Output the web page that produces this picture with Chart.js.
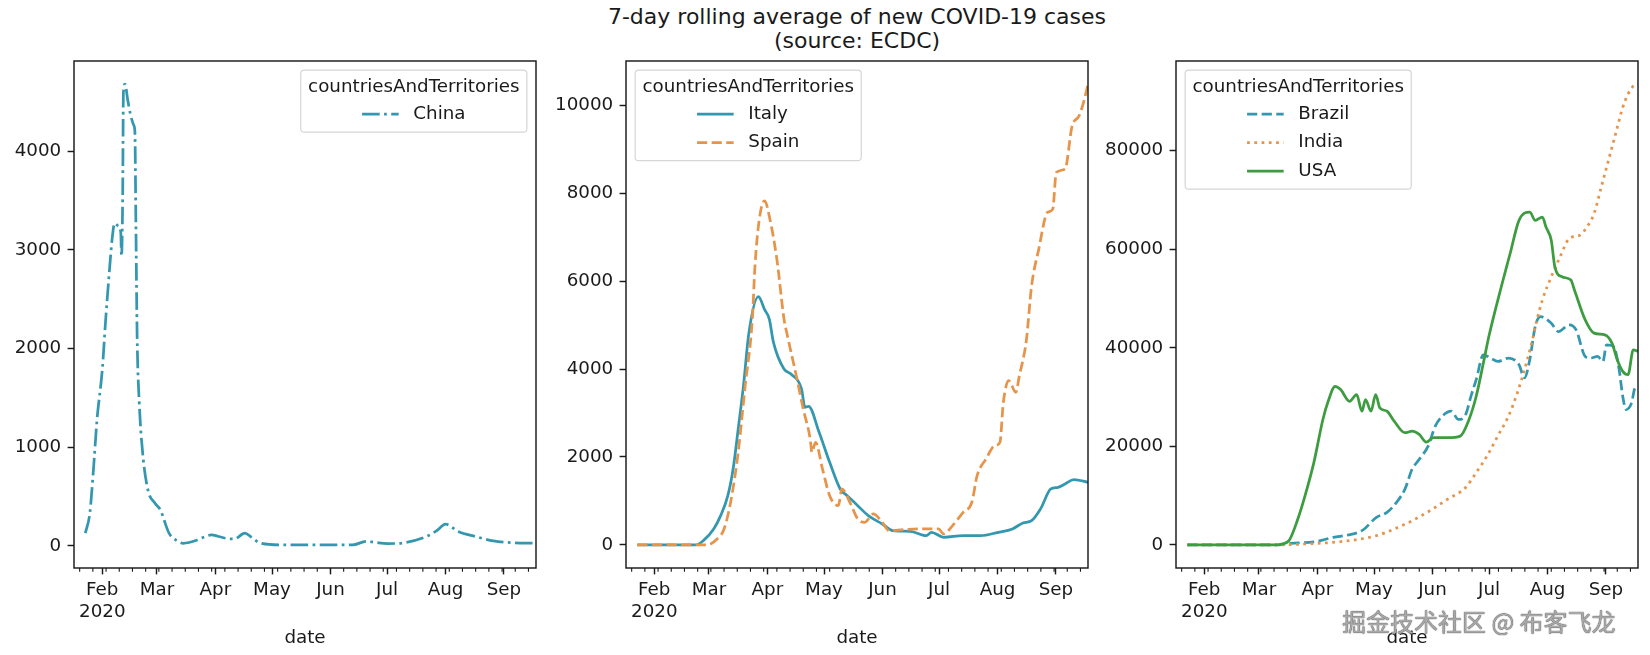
<!DOCTYPE html>
<html>
<head>
<meta charset="utf-8">
<script src="https://cdn.jsdelivr.net/npm/chart.js@4.4.0/dist/chart.umd.min.js"></script>
<style>
  body { margin: 0; background: #fff; width: 1650px; height: 655px; position: relative; overflow: hidden; font-family: "DejaVu Sans", sans-serif; }
  canvas { position: absolute; top: 0; }
  #title { position: absolute; left: 0; top: 5px; width: 1714px; text-align: center; font-size: 22px; line-height: 24.4px; color: #1a1a1a; }
  #mark { position: absolute; left: 1342px; top: 608px; font-family: "Noto Sans CJK SC", sans-serif; font-size: 24px; line-height: 26px; color: #a8a8a8; text-shadow: 0 0 1px #555, 0 0 1px #555; white-space: nowrap; }
</style>
</head>
<body>
<div id="title">7-day rolling average of new COVID-19 cases<br>(source: ECDC)</div>
<canvas id="c1" width="545" height="655" style="left:0px"></canvas>
<canvas id="c2" width="555" height="655" style="left:545px"></canvas>
<canvas id="c3" width="550" height="655" style="left:1100px"></canvas>
<div id="mark">掘金技术社区 @ 布客飞龙</div>
<script>
// x values are days since 2020-01-01
const X_MIN = 16;   // Jan 17
const X_MAX = 261;  // Sep 18
const MONTH_TICKS = [31, 60, 91, 121, 152, 182, 213, 244];
const MONTH_NAMES = ['Feb', 'Mar', 'Apr', 'May', 'Jun', 'Jul', 'Aug', 'Sep'];
const WEEK_TICKS = [19, 26, 33, 40, 47, 54, 61, 68, 75, 82, 89, 96, 103, 110, 117, 124, 131, 138,
    145, 152, 159, 166, 173, 180, 187, 194, 201, 208, 215, 222, 229, 236, 243, 250, 257];

const TICKS_1 = [0, 1000, 2000, 3000, 4000];
const TICKS_2 = [0, 2000, 4000, 6000, 8000, 10000];
const TICKS_3 = [0, 20000, 40000, 60000, 80000];

const LEGEND_TITLE = 'countriesAndTerritories';

const chinaDays = [22, 24.4, 26.3, 28.2, 31, 32.8, 34.7, 36.2, 37.5, 39.4, 40.8, 41.2, 41.8, 42.2, 43.1, 44.4, 45.9, 47.8, 48.3, 48.8, 49.5, 50.6, 52.4, 55.2, 59, 61.8, 66.4, 70, 73.9, 77, 81.4, 85, 88.9, 92, 96.3, 101, 106.6, 110, 115, 126.3, 145, 163.7, 171.1, 176, 182.3, 191.6, 202.9, 208, 213.1, 219.7, 229, 238.4, 247.7, 261];
const chinaCases = [130, 332, 772, 1279, 1787, 2294, 2770, 3107, 3269, 3242, 3178, 2937, 3513, 4596, 4680, 4528, 4376, 4257, 4190, 3300, 2100, 1452, 944, 568, 433, 365, 129, 60, 27, 35, 61, 90, 112, 100, 78, 71, 129, 90, 27, 10, 10, 10, 47, 35, 24, 34, 95, 150, 220, 147, 95, 51, 34, 27];

const italyDays = [22, 53, 57, 62.5, 66.2, 70, 72.8, 75.5, 78.3, 81.1, 86.2, 89.5, 92, 94.2, 99.8, 103.5, 109.1, 110.9, 112.8, 118.4, 124, 129.6, 133.3, 138.9, 144.5, 151.9, 157.5, 166.8, 175.2, 178, 184.5, 194.8, 204.1, 213.4, 220.9, 226.5, 231.1, 235.8, 241.3, 245.1, 248.8, 253.5, 261];
const italyCases = [0, 0, 98, 364, 667, 1121, 1727, 2636, 3621, 4800, 5644, 5350, 5136, 4607, 4000, 3886, 3545, 3129, 3152, 2561, 1879, 1273, 1121, 894, 667, 477, 326, 311, 212, 288, 174, 212, 212, 288, 364, 500, 553, 818, 1273, 1311, 1386, 1485, 1425];

const spainDays = [22, 58.8, 64.3, 68, 71.8, 75.5, 79.2, 83, 84.4, 86.7, 89.5, 92.3, 96, 99.8, 101.6, 106.3, 110, 113.7, 114.6, 116.5, 120.2, 124, 128.6, 130.5, 135.1, 138.9, 142.6, 147.2, 151.9, 155.6, 163.1, 172.4, 181.7, 184.5, 189.2, 194.8, 199.4, 202.2, 206.9, 211.5, 214.3, 216.1, 219, 222.7, 224.6, 228.3, 231.1, 234.9, 239.5, 242.3, 244.2, 248.8, 252.6, 256.3, 259.1, 261];
const spainCases = [0, 0, 136, 364, 1045, 2107, 3621, 5136, 6349, 7410, 7826, 7410, 6500, 5136, 4758, 3848, 3091, 2409, 2107, 2334, 1727, 1121, 894, 1273, 932, 591, 515, 705, 515, 326, 349, 364, 364, 250, 440, 742, 970, 1576, 1955, 2257, 2334, 3243, 3735, 3470, 3848, 4650, 5894, 6727, 7561, 7636, 8470, 8546, 9530, 9758, 10136, 10480];

const brazilDays = [22, 69, 76.8, 90.1, 99.5, 107.1, 114.6, 122.3, 127.9, 133.6, 137.4, 141.2, 145, 149.7, 153.5, 157.2, 162, 165.8, 169.6, 172.4, 175.2, 179, 182.8, 186.6, 192.3, 197.9, 200.8, 203.6, 206.5, 209.3, 215, 218.8, 224.5, 228.2, 233, 235.8, 239.6, 242.4, 244.3, 248.1, 251, 252.9, 254.7, 257.6, 259.5, 261];
const brazilCases = [0, 0, 337, 673, 1549, 2020, 2895, 5589, 6599, 8956, 11312, 15352, 17372, 20065, 24105, 26125, 27135, 25452, 26462, 30159, 33532, 38582, 37915, 37228, 37915, 36562, 33875, 37572, 44299, 46300, 44985, 43295, 44642, 43632, 38239, 37915, 38239, 37228, 40602, 40259, 35552, 30159, 27472, 28825, 31855, 31700];

const indiaDays = [22, 69, 84.4, 103.3, 122.3, 131.7, 141.2, 150.6, 160.1, 169.6, 175.2, 180.9, 186.6, 192.3, 197, 200.8, 204.6, 207.4, 210.3, 215, 219.7, 224.5, 230.1, 233.9, 237.7, 241.5, 245.3, 249.1, 252.9, 255.7, 259.5, 261];
const indiaCases = [0, 0, 202, 673, 1886, 3232, 4915, 6935, 9292, 11648, 14678, 18035, 22075, 26115, 30832, 35552, 40945, 45652, 49692, 54399, 58439, 62156, 62822, 64499, 67206, 72579, 77972, 83365, 88738, 91446, 93400, 93500];

const usaDays = [22, 69.2, 72, 75.9, 80.6, 84.4, 89.1, 93.9, 96.7, 100.4, 103.3, 108, 111.8, 114.6, 116.5, 119.4, 121.9, 124.1, 127.9, 131.7, 137.4, 141.2, 145, 148.7, 152.5, 160.1, 166.7, 171.4, 175.2, 179, 181.9, 188.5, 193.2, 197.9, 203.6, 206.5, 210.3, 212.2, 215, 216.9, 220.7, 225.4, 227.3, 233, 237.7, 243.4, 247.2, 250, 252.9, 255.7, 258.5, 261];
const usaCases = [0, 0, 200, 869, 5252, 9959, 16705, 25452, 29149, 32178, 31512, 29149, 30502, 27129, 29492, 27129, 30502, 27815, 27129, 25109, 22765, 23088, 22422, 20867, 21756, 21756, 22079, 25452, 30159, 36907, 42279, 52379, 59126, 65852, 67535, 65852, 66519, 64499, 61812, 56419, 54399, 53732, 51712, 45652, 42965, 42622, 40945, 37572, 35209, 34542, 39592, 39249];

const COLORS = {
    teal: '#3497b0',
    orange: '#e6944a',
    green: '#3d9c3f'
};
const INK = '#1a1a1a';
const FONT = '"DejaVu Sans", sans-serif';
const FS = 18.3;
const LW = 2.75;

const DASHED = [10.2, 4.4];
const DASHDOT = [17.6, 4.4, 2.75, 4.4];
const DOTTED = [2.75, 4.5];

function points(days, cases) {
    return days.map((d, i) => ({ x: d, y: cases[i] }));
}

function series(label, days, cases, color, dash, order) {
    return {
        label,
        data: points(days, cases),
        borderColor: color,
        borderWidth: LW,
        borderDash: dash,
        borderJoinStyle: 'round',
        pointRadius: 0,
        fill: false,
        cubicInterpolationMode: 'monotone',
        order
    };
}

function drawLegend(chart, corner) {
    const { ctx, chartArea: a } = chart;
    const sets = chart.data.datasets;
    ctx.save();
    ctx.font = `${FS}px ${FONT}`;
    const titleW = ctx.measureText(LEGEND_TITLE).width;
    const labelW = Math.max(...sets.map(s => ctx.measureText(s.label).width));
    const colW = 2.8 * FS + labelW;
    const w = Math.max(titleW, colW) + 0.8 * FS;
    const h = 17 + 27 + (sets.length - 1) * 28.5 + 18;
    const pad = 0.5 * FS;
    const bx = corner === 'right' ? a.right - pad - w : a.left + pad;
    const by = a.top + pad;

    ctx.beginPath();
    if (ctx.roundRect) ctx.roundRect(bx, by, w, h, 3.5); else ctx.rect(bx, by, w, h);
    ctx.fillStyle = 'rgba(255,255,255,0.8)';
    ctx.fill();
    ctx.strokeStyle = '#d6d6d6';
    ctx.lineWidth = 1.2;
    ctx.stroke();

    ctx.fillStyle = INK;
    ctx.textBaseline = 'middle';
    ctx.textAlign = 'center';
    ctx.fillText(LEGEND_TITLE, bx + w / 2, by + 17);

    const cx = bx + w / 2 - colW / 2;
    sets.forEach((s, i) => {
        const y = by + 44 + i * 28.5;
        ctx.beginPath();
        ctx.setLineDash(s.borderDash || []);
        ctx.strokeStyle = s.borderColor;
        ctx.lineWidth = s.borderWidth;
        ctx.moveTo(cx, y);
        ctx.lineTo(cx + 2 * FS, y);
        ctx.stroke();
        ctx.setLineDash([]);
        ctx.textAlign = 'left';
        ctx.fillStyle = INK;
        ctx.fillText(s.label, cx + 2.8 * FS, y);
    });
    ctx.restore();
}

// axes box, weekly minor ticks and the in-plot legend
const framePlugin = {
    id: 'frame',
    afterDraw(chart, args, opts) {
        const { ctx, chartArea: a, scales: { x } } = chart;
        ctx.save();
        ctx.strokeStyle = INK;
        ctx.lineWidth = 1.45;
        ctx.strokeRect(a.left, a.top, a.right - a.left, a.bottom - a.top);
        ctx.lineWidth = 1.1;
        ctx.beginPath();
        WEEK_TICKS.forEach(d => {
            const px = x.getPixelForValue(d);
            if (px < a.left || px > a.right) return;
            ctx.moveTo(px, a.bottom);
            ctx.lineTo(px, a.bottom + 3.7);
        });
        ctx.stroke();
        ctx.restore();
        drawLegend(chart, opts.corner);
    }
};

function yRange(datasets) {
    const vals = datasets.flatMap(d => d.data.map(p => p.y));
    const lo = Math.min(...vals), hi = Math.max(...vals);
    const m = (hi - lo) * 0.05;
    return [lo - m, hi + m];
}

function makeChart(id, datasets, yTicks, axisWidth, padRight, corner) {
    const [yMin, yMax] = yRange(datasets);
    const font = { family: FONT, size: FS, lineHeight: 1.2 };
    return new Chart(document.getElementById(id), {
        type: 'line',
        data: { datasets },
        options: {
            responsive: false,
            animation: false,
            layout: { padding: { top: 61, right: padRight, left: 0, bottom: 0 } },
            plugins: {
                legend: { display: false },
                tooltip: { enabled: false },
                frame: { corner }
            },
            scales: {
                x: {
                    type: 'linear',
                    min: X_MIN,
                    max: X_MAX,
                    afterBuildTicks: s => { s.ticks = MONTH_TICKS.map(v => ({ value: v })); },
                    afterFit: s => { s.height = 87; },
                    ticks: {
                        autoSkip: false,
                        maxRotation: 0,
                        padding: 4.6,
                        color: INK,
                        font,
                        callback: v => {
                            const i = MONTH_TICKS.indexOf(v);
                            return i === 0 ? [MONTH_NAMES[0], '2020'] : MONTH_NAMES[i];
                        }
                    },
                    grid: { drawOnChartArea: false, tickLength: 6.4, tickWidth: 1.45, tickColor: INK },
                    border: { display: false },
                    title: { display: true, text: 'date', color: INK, font: { family: FONT, size: FS, lineHeight: 1.2 }, padding: { top: 0, bottom: 6 } }
                },
                y: {
                    type: 'linear',
                    min: yMin,
                    max: yMax,
                    afterBuildTicks: s => { s.ticks = yTicks.map(v => ({ value: v })); },
                    afterFit: s => { s.width = axisWidth; },
                    ticks: { padding: 6.4, color: INK, font, callback: v => String(v) },
                    grid: { drawOnChartArea: false, tickLength: 6.4, tickWidth: 1.45, tickColor: INK },
                    border: { display: false }
                }
            }
        },
        plugins: [framePlugin]
    });
}

makeChart('c1', [
    series('China', chinaDays, chinaCases, COLORS.teal, DASHDOT, 1)
], TICKS_1, 74, 9, 'right');

makeChart('c2', [
    series('Italy', italyDays, italyCases, COLORS.teal, [], 2),
    series('Spain', spainDays, spainCases, COLORS.orange, DASHED, 1)
], TICKS_2, 81, 12, 'left');

makeChart('c3', [
    series('Brazil', brazilDays, brazilCases, COLORS.teal, DASHED, 3),
    series('India', indiaDays, indiaCases, COLORS.orange, DOTTED, 2),
    series('USA', usaDays, usaCases, COLORS.green, [], 1)
], TICKS_3, 76, 12, 'left');
</script>
</body>
</html>
